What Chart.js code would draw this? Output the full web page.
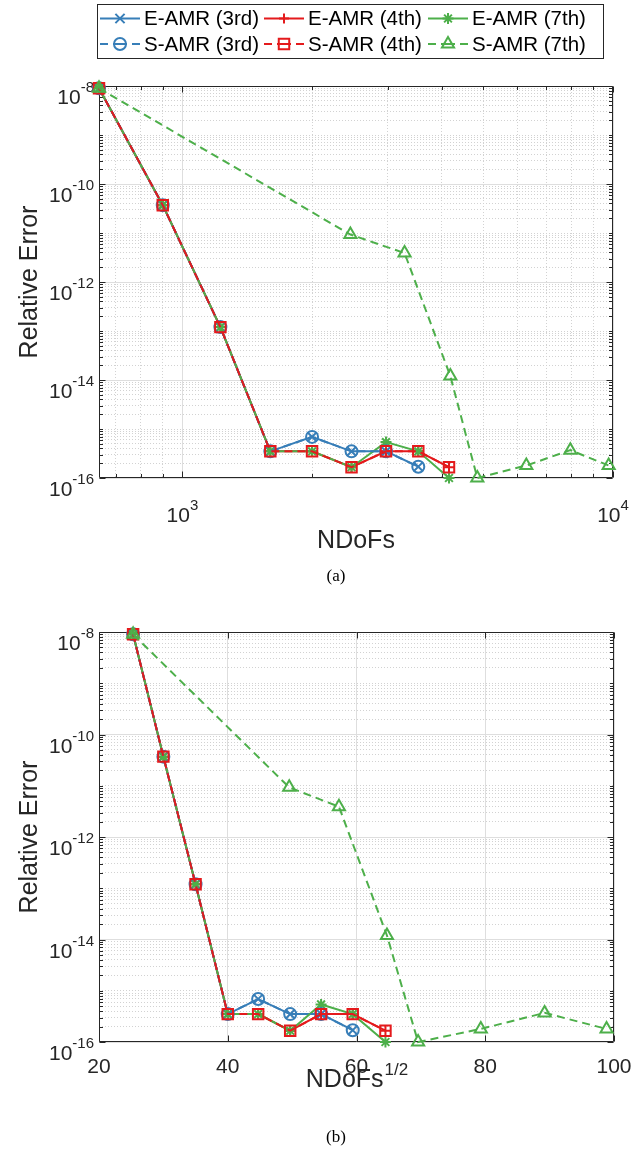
<!DOCTYPE html>
<html>
<head>
<meta charset="utf-8">
<script src="https://cdn.jsdelivr.net/npm/chart.js@4/dist/chart.umd.min.js"></script>
<style>
  html, body { margin: 0; padding: 0; background: #fff; }
  #page { position: relative; width: 639px; height: 1154px; overflow: hidden; background: #fff; }
  canvas { position: absolute; left: 0; }
  .cap { position: absolute; left: 0; width: 672px; text-align: center;
         font: 17px "Liberation Serif", "Times New Roman", serif; color: #000; }
</style>
</head>
<body>
<div id="page">
  <canvas id="chartA" width="639" height="600" style="top:0"></canvas>
  <canvas id="chartB" width="639" height="554" style="top:600px"></canvas>
  <div class="cap" style="top:566px">(a)</div>
  <div class="cap" style="top:1127px">(b)</div>
</div>
<script>
// ---- data: degrees of freedom per refinement step and relative error ----
const ndofsThird    = [640, 900, 1225, 1600, 2000, 2470, 2970, 3530];
const ndofsFourth   = [640, 900, 1225, 1600, 2000, 2470, 2970, 3530, 4160];
const ndofsSeventhE = [640, 900, 1225, 1600, 2000, 2470, 2970, 3530, 4160];
const ndofsSeventhS = [640, 2455, 3280, 4190, 4840, 6290, 7960, 9770];

const errThird    = [9.0e-9, 3.7e-11, 1.2e-13, 3.5e-16, 6.9e-16, 3.5e-16, 3.5e-16, 1.7e-16];
const errFourth   = [9.0e-9, 3.7e-11, 1.2e-13, 3.5e-16, 3.5e-16, 1.66e-16, 3.5e-16, 3.5e-16, 1.66e-16];
const errSeventhE = [9.0e-9, 3.7e-11, 1.2e-13, 3.5e-16, 3.5e-16, 1.66e-16, 5.4e-16, 3.5e-16, 1.0e-16];
const errSeventhS = [9.0e-9, 9.3e-12, 3.9e-12, 1.2e-14, 1.0e-16, 1.8e-16, 3.7e-16, 1.8e-16];

const seriesLabels = ['E-AMR (3rd)', 'E-AMR (4th)', 'E-AMR (7th)',
                      'S-AMR (3rd)', 'S-AMR (4th)', 'S-AMR (7th)'];

// tick labels
const yLabelExponents  = [-16, -14, -12, -10, -8];
const xLabelExponentsA = [3, 4];
const xTickValuesB     = [20, 40, 60, 80, 100];

// ---- styling ----
const FONT = '"Liberation Sans", Arial, Helvetica, sans-serif';
const AXIS_COLOR = '#262626';
const BLUE = '#377EB8', RED = '#E41A1C', GREEN = '#4DAF4A';
const SOLID = [], DASHED = [8, 5];
const TICK_FONT = 21, EXP_FONT = 15, TITLE_FONT = 25, LEGEND_FONT = 20.5;

Chart.defaults.font.family = FONT;
Chart.defaults.color = AXIS_COLOR;

const series = [
  { label: seriesLabels[0], n: ndofsThird,    err: errThird,    color: BLUE,  dash: SOLID,  marker: 'crossRot', r: 6.5 },
  { label: seriesLabels[1], n: ndofsFourth,   err: errFourth,   color: RED,   dash: SOLID,  marker: 'cross',    r: 5 },
  { label: seriesLabels[2], n: ndofsSeventhE, err: errSeventhE, color: GREEN, dash: SOLID,  marker: 'star',     r: 5.5 },
  { label: seriesLabels[3], n: ndofsThird,    err: errThird,    color: BLUE,  dash: DASHED, marker: 'circle',   r: 6 },
  { label: seriesLabels[4], n: ndofsFourth,   err: errFourth,   color: RED,   dash: DASHED, marker: 'rect',     r: 7.4 },
  { label: seriesLabels[5], n: ndofsSeventhS, err: errSeventhS, color: GREEN, dash: DASHED, marker: 'triangle', r: 7 },
];

// decade ticks with minor steps 2..9; listed exponents are major and labelled
function logTickList(fromValue, toExp, labelled) {
  const list = [];
  const startExp = Math.floor(Math.log10(fromValue));
  for (let e = startExp; e < toExp; e++) {
    for (let k = 1; k <= 9; k++) {
      const v = Number((k * Math.pow(10, e)).toPrecision(6));
      if (v < fromValue * 0.999) continue;
      const lab = k === 1 && labelled.includes(e);
      list.push({ value: v, major: lab, exp: lab ? e : null });
    }
  }
  const lab = labelled.includes(toExp);
  list.push({ value: Math.pow(10, toExp), major: lab, exp: lab ? toExp : null });
  return list;
}

const yTickList  = logTickList(1e-16, -8, yLabelExponents);
const xTickListA = logTickList(700, 4, xLabelExponentsA);
const xTickListB = xTickValuesB.map(v => ({ value: v, major: true, text: String(v) }));

function makeDatasets(xOf) {
  return series.map((s, i) => ({
    label: s.label,
    data: s.n.map((n, k) => ({ x: xOf(n), y: s.err[k] })),
    borderColor: s.color,
    backgroundColor: 'rgba(0,0,0,0)',
    borderWidth: 2,
    borderDash: s.dash,
    pointStyle: s.marker,
    pointRadius: s.r,
    pointHoverRadius: s.r,
    pointBorderWidth: 2,
    pointBorderColor: s.color,
    pointBackgroundColor: 'rgba(0,0,0,0)',
    tension: 0,
    fill: false,
    clip: false,
    order: series.length - i,
  }));
}

const gridColor = ctx => (ctx.tick && ctx.tick.major) ? '#DEDEDE' : '#D2D2D2';
const gridDash  = ctx => (ctx.tick && ctx.tick.major) ? [] : [1, 2];

function yScale() {
  return {
    type: 'logarithmic', min: 1e-16, max: 1e-8,
    afterBuildTicks: sc => { sc.ticks = yTickList.map(t => ({ value: t.value, major: t.major })); },
    afterFit: sc => { sc.width = 99; },
    ticks: { display: false, autoSkip: false },
    grid: { color: gridColor, lineWidth: 1, drawTicks: false },
    border: { display: false, dash: gridDash },
    title: { display: true, text: 'Relative Error', color: AXIS_COLOR,
             font: { family: FONT, size: TITLE_FONT }, padding: { top: 15, bottom: 0 } },
  };
}

// "10" followed by a raised exponent; (x, y) is the anchor and baseline of "10"
function drawPower(ctx, x, y, exp, align) {
  const base = '10', sup = String(exp);
  ctx.font = TICK_FONT + 'px ' + FONT;
  const wb = ctx.measureText(base).width;
  ctx.font = EXP_FONT + 'px ' + FONT;
  const ws = ctx.measureText(sup).width;
  const total = wb + ws;
  const x0 = align === 'right' ? x - total : x - total / 2;
  ctx.font = TICK_FONT + 'px ' + FONT;
  ctx.fillText(base, x0, y);
  ctx.font = EXP_FONT + 'px ' + FONT;
  ctx.fillText(sup, x0 + wb, y - 12);
}

// box frame with inward tick marks (beneath the data) and the tick labels
const axesFrame = {
  id: 'axesFrame',
  beforeDatasetsDraw(chart, args, opts) {
    const { ctx, chartArea: a, scales } = chart;
    const L = Math.round(a.left) + 0.5, R = Math.round(a.right) - 0.5;
    const T = Math.round(a.top) + 0.5, B = Math.round(a.bottom) - 0.5;
    ctx.save();
    ctx.strokeStyle = AXIS_COLOR; ctx.lineWidth = 1; ctx.setLineDash([]);
    ctx.beginPath();
    scales.x.ticks.forEach(t => {
      const p = Math.round(scales.x.getPixelForValue(t.value)) + 0.5;
      const len = t.major ? 6 : 3.5;
      ctx.moveTo(p, B); ctx.lineTo(p, B - len);
      ctx.moveTo(p, T); ctx.lineTo(p, T + len);
    });
    scales.y.ticks.forEach(t => {
      const p = Math.round(scales.y.getPixelForValue(t.value)) + 0.5;
      const len = t.major ? 6 : 3.5;
      ctx.moveTo(L, p); ctx.lineTo(L + len, p);
      ctx.moveTo(R, p); ctx.lineTo(R - len, p);
    });
    ctx.rect(L, T, R - L, B - T);
    ctx.stroke();

    // tick labels
    ctx.fillStyle = AXIS_COLOR;
    ctx.textBaseline = 'alphabetic';
    ctx.textAlign = 'left';
    yTickList.forEach(t => {
      if (t.exp === null) return;
      const p = scales.y.getPixelForValue(t.value);
      drawPower(ctx, a.left - 5, p + 18, t.exp, 'right');
    });
    if (opts.xTicks === 'power') {
      xTickListA.forEach(t => {
        if (t.exp === null) return;
        const p = scales.x.getPixelForValue(t.value);
        drawPower(ctx, p, a.bottom + 44, t.exp, 'center');
      });
    } else {
      ctx.font = TICK_FONT + 'px ' + FONT;
      ctx.textAlign = 'center';
      xTickListB.forEach(t => {
        const p = scales.x.getPixelForValue(t.value);
        ctx.fillText(t.text, p, a.bottom + 31);
      });
    }
    ctx.restore();
  }
};

// boxed legend: three columns, each entry a short line sample with its marker
const legendBox = {
  id: 'legendBox',
  afterDraw(chart, args, opts) {
    const ctx = chart.ctx;
    const { left, top, right, bottom, rows, cols, lineLen } = opts;
    ctx.save();
    ctx.fillStyle = '#fff';
    ctx.fillRect(left, top, right - left, bottom - top);
    ctx.strokeStyle = AXIS_COLOR; ctx.lineWidth = 1; ctx.setLineDash([]);
    ctx.strokeRect(left + 0.5, top + 0.5, right - left, bottom - top);
    chart.data.datasets.forEach((ds, i) => {
      const s = series[i];
      const x = cols[i % 3], y = rows[Math.floor(i / 3)];
      ctx.strokeStyle = ds.borderColor;
      ctx.lineWidth = 2;
      const half = lineLen / 2;
      ctx.setLineDash(s.dash.length ? [8, 5, 2 * half - 26, 5, 8, 60] : []);
      ctx.beginPath(); ctx.moveTo(x, y); ctx.lineTo(x + lineLen, y); ctx.stroke();
      ctx.setLineDash([]);
      ctx.fillStyle = 'rgba(0,0,0,0)';
      Chart.helpers.drawPoint(ctx, { pointStyle: s.marker, radius: s.r, borderWidth: 2, rotation: 0 }, x + half, y);
      ctx.fillStyle = '#000';
      ctx.font = LEGEND_FONT + 'px ' + FONT;
      ctx.textBaseline = 'middle';
      ctx.textAlign = 'left';
      ctx.fillText(ds.label, x + lineLen + 4, y + 1);
    });
    ctx.restore();
  }
};

// x-axis title with a raised exponent for the second panel
const sqrtTitle = {
  id: 'sqrtTitle',
  afterDraw(chart) {
    const { ctx, chartArea: a } = chart;
    const base = 'NDoFs', sup = '1/2';
    ctx.save();
    ctx.fillStyle = AXIS_COLOR;
    ctx.textBaseline = 'alphabetic';
    ctx.textAlign = 'left';
    ctx.font = TITLE_FONT + 'px ' + FONT;
    const w1 = ctx.measureText(base).width;
    ctx.font = '17px ' + FONT;
    const w2 = ctx.measureText(sup).width;
    const x0 = (a.left + a.right) / 2 - (w1 + w2) / 2;
    const yb = 487;
    ctx.font = TITLE_FONT + 'px ' + FONT;
    ctx.fillText(base, x0, yb);
    ctx.font = '17px ' + FONT;
    ctx.fillText(sup, x0 + w1 + 1, yb - 12);
    ctx.restore();
  }
};

// ---- panel (a): error against NDoFs ----
new Chart(document.getElementById('chartA'), {
  type: 'line',
  data: { datasets: makeDatasets(n => n) },
  options: {
    responsive: false, animation: false, events: [],
    layout: { padding: { top: 86, right: 26, bottom: 0, left: 0 } },
    plugins: {
      tooltip: { enabled: false },
      legend: { display: false },
      axesFrame: { xTicks: 'power' },
      legendBox: { left: 97, right: 603, top: 4, bottom: 58,
                   rows: [18.5, 44], cols: [100, 264, 428], lineLen: 40 },
    },
    scales: {
      x: {
        type: 'logarithmic', position: 'bottom', min: 640, max: 10000,
        afterBuildTicks: sc => { sc.ticks = xTickListA.map(t => ({ value: t.value, major: t.major })); },
        afterFit: sc => { sc.height = 122; },
        ticks: { display: false, autoSkip: false },
        grid: { color: gridColor, lineWidth: 1, drawTicks: false },
        border: { display: false, dash: gridDash },
        title: { display: true, text: 'NDoFs', color: AXIS_COLOR,
                 font: { family: FONT, size: TITLE_FONT }, padding: { top: 0, bottom: 44 } },
      },
      y: yScale(),
    },
  },
  plugins: [axesFrame, legendBox],
});

// ---- panel (b): error against the square root of NDoFs ----
new Chart(document.getElementById('chartB'), {
  type: 'line',
  data: { datasets: makeDatasets(n => Math.sqrt(n)) },
  options: {
    responsive: false, animation: false, events: [],
    layout: { padding: { top: 32, right: 25, bottom: 0, left: 0 } },
    plugins: { tooltip: { enabled: false }, legend: { display: false }, axesFrame: { xTicks: 'plain' } },
    scales: {
      x: {
        type: 'linear', position: 'bottom', min: 20, max: 100,
        afterBuildTicks: sc => { sc.ticks = xTickListB.map(t => ({ value: t.value, major: true })); },
        afterFit: sc => { sc.height = 112; },
        ticks: { display: false, autoSkip: false },
        grid: { color: '#DEDEDE', lineWidth: 1, drawTicks: false },
        border: { display: false },
        title: { display: false },
      },
      y: yScale(),
    },
  },
  plugins: [axesFrame, sqrtTitle],
});
</script>
</body>
</html>
